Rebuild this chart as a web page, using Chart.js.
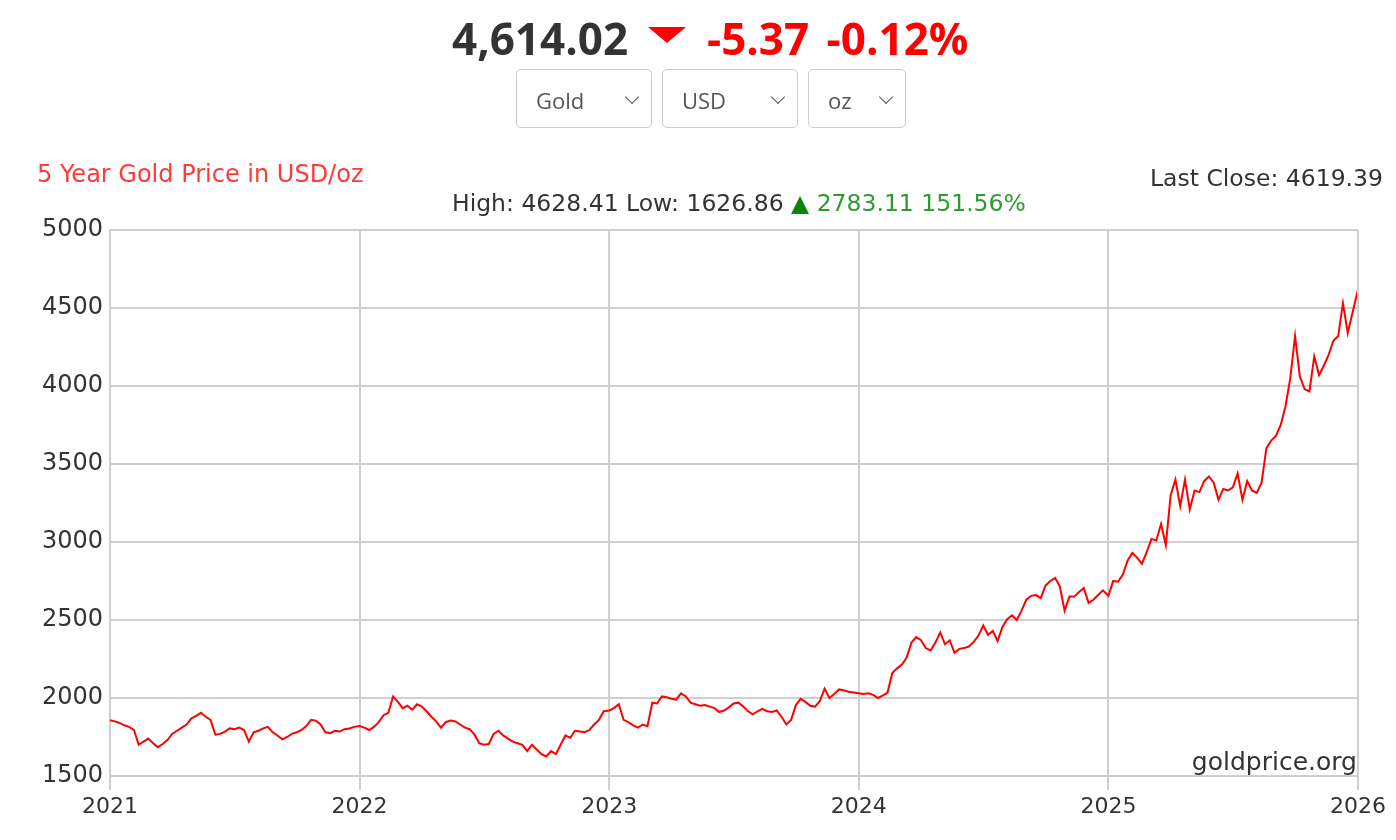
<!DOCTYPE html>
<html>
<head>
<meta charset="utf-8">
<script src="https://cdn.jsdelivr.net/npm/chart.js@4/dist/chart.umd.min.js"></script>
<style>
body { margin: 0; background: #fff; font-family: "Open Sans", sans-serif; }
#wrap { position: relative; width: 1396px; height: 840px; overflow: hidden; }
#goldChart { position: absolute; left: 0; top: 0; }
.abs { position: absolute; white-space: nowrap; }
#price { left: 452px; top: 8px; font-size: 44px; font-weight: 700; color: #333; line-height: 60px; }
#tri { left: 648px; top: 27px; width: 0; height: 0; border-left: 19px solid transparent; border-right: 19px solid transparent; border-top: 16px solid #f00; }
#chg { left: 707px; top: 8px; font-size: 44px; font-weight: 700; color: #f00; line-height: 60px; word-spacing: 6px; }
.sel { position: absolute; top: 69px; height: 57px; border: 1px solid #ccc; border-radius: 5px; font-size: 22px; color: #555; line-height: 57px; box-sizing: content-box; }
.sel span { position: absolute; left: 19px; top: 2px; }
.sel i { position: absolute; right: 14px; top: 22px; width: 9px; height: 9px; border-right: 1.5px solid #555; border-bottom: 1.5px solid #555; transform: rotate(45deg); }
.ctext { font-family: "DejaVu Sans", sans-serif; font-size: 23.5px; color: #333; line-height: 28px; }
#title { left: 37px; top: 160px; color: #ff3a3a; font-size: 24px; }
#last { right: 13px; top: 164px; }
#hl { left: 452px; top: 189px; }
#hl .g { color: #2f9a2f; }
#hl .t { color: #0a850a; }
#wm { right: 39px; top: 748px; font-size: 25px; }
</style>
</head>
<body>
<div id="wrap">
  <canvas id="goldChart" width="1396" height="840"></canvas>
  <div class="abs" id="price">4,614.02</div>
  <div class="abs" id="tri"></div>
  <div class="abs" id="chg">-5.37 -0.12%</div>
  <div class="sel" style="left:516px;width:134px"><span>Gold</span><i></i></div>
  <div class="sel" style="left:662px;width:134px"><span>USD</span><i></i></div>
  <div class="sel" style="left:808px;width:96px"><span>oz</span><i></i></div>
  <div class="abs ctext" id="title">5 Year Gold Price in USD/oz</div>
  <div class="abs ctext" id="last">Last Close: 4619.39</div>
  <div class="abs ctext" id="hl">High: 4628.41 Low: 1626.86 <span class="t">&#9650;</span> <span class="g">2783.11 151.56%</span></div>
  <div class="abs ctext" id="wm">goldprice.org</div>
</div>
<script>
// weekly closes, one array per year
const prices2021 = [1858, 1850, 1840, 1825, 1815, 1795, 1700, 1720, 1740, 1710, 1685, 1705, 1730,
    1770, 1790, 1810, 1830, 1870, 1885, 1905, 1880, 1860, 1765, 1770, 1785, 1805,
    1800, 1810, 1795, 1720, 1780, 1790, 1805, 1815, 1780, 1760, 1735, 1750, 1770,
    1780, 1795, 1820, 1860, 1855, 1830, 1780, 1775, 1790, 1785, 1800, 1805, 1815];
const prices2022 = [1820, 1810, 1795, 1815, 1845, 1890, 1905, 2010, 1975, 1935, 1950, 1925, 1960,
    1945, 1915, 1880, 1850, 1810, 1845, 1855, 1850, 1830, 1810, 1800, 1765, 1710,
    1700, 1705, 1770, 1790, 1760, 1740, 1720, 1710, 1700, 1660, 1700, 1670, 1640,
    1625, 1660, 1640, 1700, 1760, 1745, 1790, 1785, 1780, 1795, 1830, 1860, 1915];
const prices2023 = [1920, 1935, 1960, 1860, 1845, 1825, 1810, 1830, 1820, 1970, 1965, 2010, 2005,
    1995, 1990, 2030, 2010, 1970, 1960, 1950, 1955, 1945, 1935, 1910, 1920, 1940,
    1965, 1970, 1945, 1915, 1895, 1915, 1930, 1915, 1910, 1920, 1880, 1830, 1860,
    1955, 1995, 1975, 1950, 1945, 1980, 2060, 2000, 2025, 2055, 2050, 2040, 2035];
const prices2024 = [2030, 2025, 2030, 2020, 2000, 2015, 2035, 2160, 2190, 2215, 2260, 2355, 2390,
    2370, 2320, 2305, 2355, 2420, 2345, 2370, 2290, 2315, 2320, 2330, 2360, 2400,
    2465, 2405, 2430, 2365, 2455, 2505, 2530, 2500, 2560, 2630, 2655, 2660, 2640,
    2720, 2750, 2770, 2715, 2560, 2650, 2650, 2680, 2705, 2610, 2630, 2660, 2690];
const prices2025 = [2655, 2750, 2745, 2790, 2880, 2930, 2900, 2860, 2935, 3020, 3010, 3115, 2980,
    3300, 3400, 3230, 3400, 3210, 3330, 3320, 3390, 3420, 3380, 3270, 3340, 3330,
    3350, 3440, 3270, 3390, 3330, 3315, 3380, 3600, 3650, 3680, 3750, 3870, 4050,
    4320, 4060, 3980, 3965, 4190, 4070, 4130, 4200, 4290, 4320, 4530, 4340, 4470];
const lastClose = 4619.39;

const years = [2021, 2022, 2023, 2024, 2025];
const yTicks = [1500, 2000, 2500, 3000, 3500, 4000, 4500, 5000];

function buildPoints() {
    const all = [prices2021, prices2022, prices2023, prices2024, prices2025];
    const pts = [];
    all.forEach((arr, k) => {
        arr.forEach((v, i) => pts.push({ x: years[k] + i * 7 / 365, y: v }));
    });
    pts.push({ x: 2026, y: lastClose });
    return pts;
}

const gridColor = "#cfcfcf";
const ctx = document.getElementById("goldChart").getContext("2d");

new Chart(ctx, {
    type: "line",
    data: {
        datasets: [{
            data: buildPoints(),
            borderColor: "#ff0000",
            borderWidth: 2,
            pointRadius: 0,
            tension: 0
        }]
    },
    options: {
        responsive: false,
        animation: false,
        layout: { padding: { top: 230, right: 38, left: 0, bottom: 0 } },
        plugins: { legend: { display: false }, tooltip: { enabled: false } },
        scales: {
            x: {
                type: "linear",
                min: 2021,
                max: 2026,
                afterFit: s => { s.height = 64; },
                ticks: {
                    stepSize: 1,
                    maxRotation: 0,
                    autoSkip: false,
                    padding: 4,
                    color: "#333",
                    font: { family: "DejaVu Sans", size: 22 },
                    callback: v => String(v)
                },
                grid: { color: gridColor, lineWidth: 2, tickLength: 14 },
                border: { color: gridColor, width: 2 }
            },
            y: {
                min: 1500,
                max: 5000,
                afterFit: s => { s.width = 110; },
                afterBuildTicks: s => { s.ticks = yTicks.map(v => ({ value: v })); },
                ticks: {
                    padding: 7,
                    color: "#333",
                    font: { family: "DejaVu Sans", size: 24 },
                    callback: v => String(v)
                },
                grid: { color: gridColor, lineWidth: 2, drawTicks: false },
                border: { color: gridColor, width: 2 }
            }
        }
    },
    plugins: [{
        id: "rightEdge",
        afterDraw(chart) {
            const a = chart.chartArea;
            const c = chart.ctx;
            c.save();
            c.strokeStyle = gridColor;
            c.lineWidth = 2;
            c.beginPath();
            c.moveTo(a.right, a.top);
            c.lineTo(a.right, a.bottom + 14);
            c.stroke();
            c.restore();
        }
    }]
});
</script>
</body>
</html>
